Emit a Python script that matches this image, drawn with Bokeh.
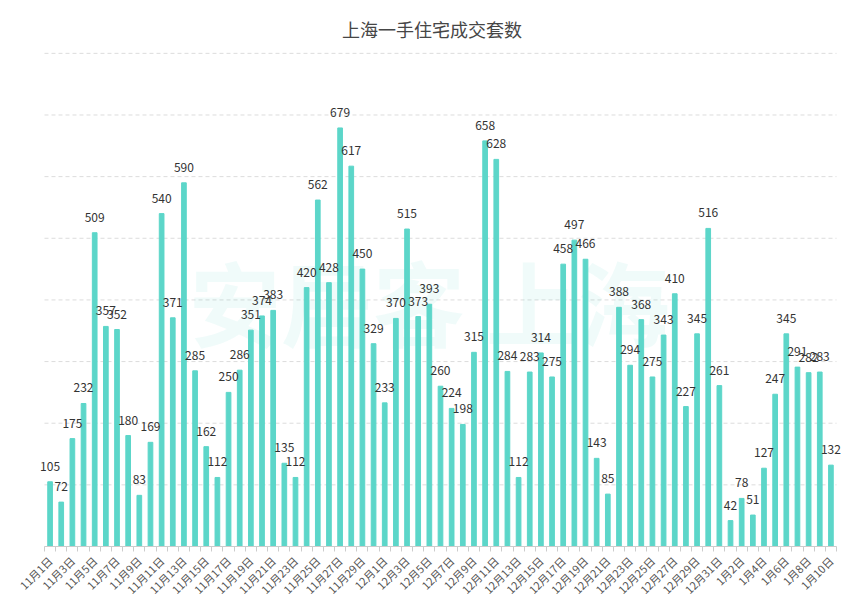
import math

from bokeh.core.properties import value
from bokeh.embed import file_html
from bokeh.models import ColumnDataSource, FixedTicker, LabelSet, Range1d
from bokeh.plotting import figure
from bokeh.resources import INLINE

title = '上海一手住宅成交套数'

dates = (['11月%d日' % d for d in range(1, 31)]
         + ['12月%d日' % d for d in range(1, 32)]
         + ['1月%d日' % d for d in range(1, 11)])

deals = [105, 72, 175, 232, 509, 357, 352, 180, 83, 169,
         540, 371, 590, 285, 162, 112, 250, 286, 351, 374,
         383, 135, 112, 420, 562, 428, 679, 617, 450, 329,
         233, 370, 515, 373, 393, 260, 224, 198, 315, 658,
         628, 284, 112, 283, 314, 275, 458, 497, 466, 143,
         85, 388, 294, 368, 275, 343, 410, 227, 345, 516,
         261, 42, 78, 51, 127, 247, 345, 291, 282, 283,
         132]

y_ticks = [0, 100, 200, 300, 400, 500, 600, 700, 800]

font = 'Noto Sans CJK SC'
bar_color = '#5cd6c9'

n = len(dates)
idx = list(range(n))
source = ColumnDataSource(data=dict(
    x=idx,
    deals=deals,
    label=[str(v) for v in deals],
))

# category band is about 11.16px wide; the frame is a little wider than the bars
# so that the outer value labels are not cut off
band_px = 11.155
p = figure(
    width=843,
    height=605,
    x_range=Range1d(-0.5 - 24 / band_px, n - 0.5 + 7 / band_px),
    y_range=Range1d(0, 803),
    toolbar_location=None,
    output_backend='svg',
    min_border_left=20,
    min_border_right=0,
    min_border_top=51,
    min_border_bottom=57,
)

p.title.text = title
p.title.align = 'center'
p.title.text_font = font
p.title.text_font_size = '18px'
p.title.text_font_style = 'normal'
p.title.text_color = '#464646'
p.title.standoff = 20

p.outline_line_color = None
p.background_fill_color = 'white'
p.border_fill_color = 'white'

# dashed value grid, only across the category bands
p.segment(x0=[-0.5] * len(y_ticks), y0=y_ticks, x1=[n - 0.5] * len(y_ticks), y1=y_ticks,
          line_color='#dcdcdc', line_dash='4 3', line_width=1)

# faint watermark behind the bars
p.text(x=[34], y=[400], text=['安居客 上海'], text_align='center', text_baseline='middle',
       text_font=value(font), text_font_size='92px', text_font_style='bold',
       text_color=bar_color, text_alpha=0.09)

p.vbar(x='x', top='deals', width=0.42, color=bar_color, source=source)

labels = LabelSet(x='x', y='deals', text='label', y_offset=11, text_align='center',
                  text_baseline='bottom', text_font=value(font), text_font_size='12px',
                  text_color='#333333', source=source)
p.add_layout(labels)

p.xgrid.grid_line_color = None
p.ygrid.grid_line_color = None

p.yaxis.visible = False

p.xaxis.bounds = (-0.5, n - 0.5)
p.xaxis.ticker = FixedTicker(ticks=idx[::2], minor_ticks=[i - 0.5 for i in range(n + 1)])
p.xaxis.major_label_overrides = {i: dates[i] for i in idx[::2]}
p.xaxis.major_label_orientation = math.pi / 4
p.xaxis.major_label_text_font = font
p.xaxis.major_label_text_font_size = '11px'
p.xaxis.major_label_text_color = '#555555'
p.xaxis.major_label_standoff = 6
p.xaxis.major_tick_line_color = None
p.xaxis.minor_tick_line_color = '#cccccc'
p.xaxis.minor_tick_in = 0
p.xaxis.minor_tick_out = 5
p.xaxis.axis_line_color = '#cccccc'

open('out.html', 'w').write(file_html(p, INLINE))
